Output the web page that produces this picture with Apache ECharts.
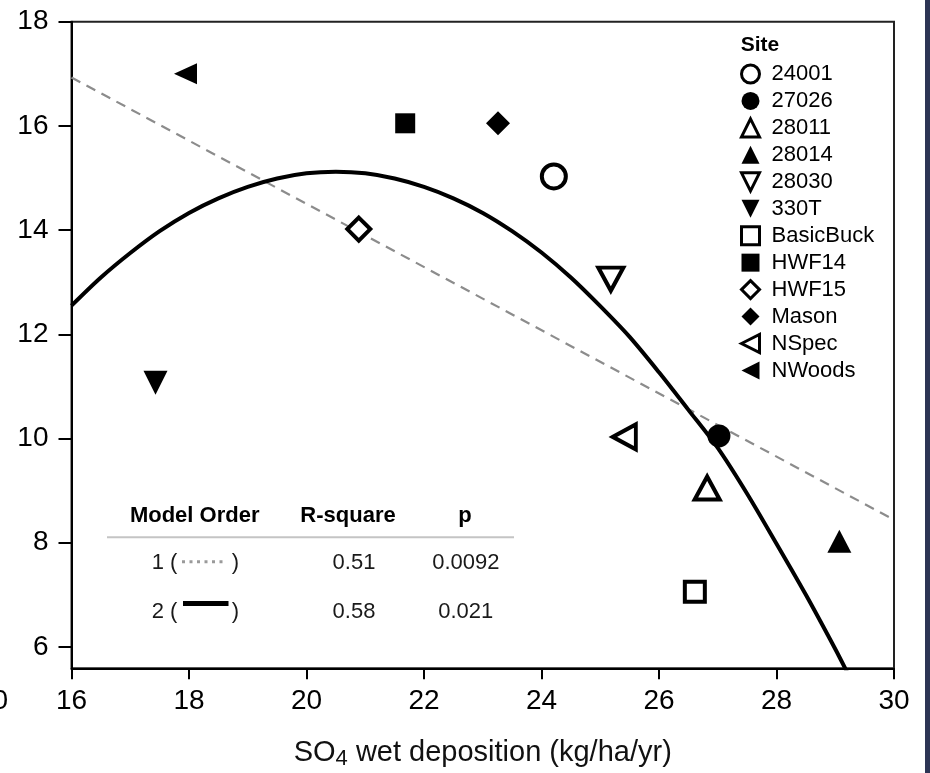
<!DOCTYPE html>
<html>
<head>
<meta charset="utf-8">
<script src="https://cdn.jsdelivr.net/npm/echarts@6.0.0/dist/echarts.min.js"></script>
<style>
html, body { margin: 0; padding: 0; background: #fff; }
#chart { width: 930px; height: 773px; }
</style>
</head>
<body>
<div id="chart"></div>
<script>
// site observations (SO4 deposition vs response)
const sites = ['24001', '27026', '28011', '28014', '28030', '330T', 'BasicBuck', 'HWF14', 'HWF15', 'Mason', 'NSpec', 'NWoods']
const siteX = [24.21, 27.02, 26.82, 29.07, 25.18, 17.43, 26.61, 21.68, 20.89, 23.26, 25.41, 17.94]
const siteY = [15.03, 10.05, 9.05, 8.03, 13.06, 11.07, 7.06, 16.05, 14.02, 16.05, 10.03, 17.0]

// fitted lines
const linFitX = [16, 30]
const linFitY = [16.93, 8.44]
const quadFitX = [16, 16.5, 17, 17.5, 18, 18.5, 19, 19.5, 20, 20.5, 21, 21.5, 22, 22.5, 23, 23.5, 24, 24.5, 25, 25.5, 26, 26.5, 27, 27.5, 28, 28.5, 29, 29.2]
const quadFitY = [12.55, 13.09, 13.56, 13.98, 14.33, 14.61, 14.83, 14.99, 15.09, 15.12, 15.09, 14.99, 14.83, 14.61, 14.33, 13.98, 13.57, 13.09, 12.54, 11.95, 11.27, 10.55, 9.82, 8.94, 7.98, 7.0, 5.96, 5.52]

const xTicks = [16, 18, 20, 22, 24, 26, 28, 30]
const yTicks = [6, 8, 10, 12, 14, 16, 18]

// fit summary table
const modelOrders = ['1', '2']
const rSquares = ['0.51', '0.58']
const pValues = ['0.0092', '0.021']

const FONT = 'Liberation Sans, Arial, sans-serif'

const TRI_DOWN = 'path://M0,0L2,0L1,2Z'
const TRI_LEFT = 'path://M0,1L2,0L2,2Z'

// marker look per site: [symbol, size, open?]
const markers = {
  '24001': ['circle', 24, true],
  '27026': ['circle', 23, false],
  '28011': ['triangle', [25, 23], true],
  '28014': ['triangle', [24, 23], false],
  '28030': [TRI_DOWN, [25, 23], true],
  '330T': [TRI_DOWN, [24, 24], false],
  'BasicBuck': ['rect', 20, true],
  'HWF14': ['rect', 20, false],
  'HWF15': ['diamond', 23, true],
  'Mason': ['diamond', 24, false],
  'NSpec': [TRI_LEFT, [23, 25], true],
  'NWoods': [TRI_LEFT, [23, 21], false]
}

const chart = echarts.init(document.getElementById('chart'))

const siteSeries = sites.map((name, i) => {
  const [symbol, size, open] = markers[name]
  return {
    name,
    type: 'scatter',
    symbol,
    symbolSize: size,
    data: [[siteX[i], siteY[i]]],
    itemStyle: open
      ? { color: '#fff', borderColor: '#000', borderWidth: 4, opacity: 1 }
      : { color: '#000', borderWidth: 0, opacity: 1 },
    z: 5
  }
})

const legendData = sites.map(name => ({
  name,
  itemStyle: markers[name][2] ? { borderWidth: 3 } : {}
}))

const tableRowsY = [563, 612]
const tableGraphics = [
  { type: 'text', x: 194.7, y: 516, style: { text: 'Model Order', font: 'bold 22px ' + FONT, fill: '#000', align: 'center', verticalAlign: 'middle' } },
  { type: 'text', x: 348, y: 516, style: { text: 'R-square', font: 'bold 22px ' + FONT, fill: '#000', align: 'center', verticalAlign: 'middle' } },
  { type: 'text', x: 465, y: 516, style: { text: 'p', font: 'bold 22px ' + FONT, fill: '#000', align: 'center', verticalAlign: 'middle' } },
  { type: 'line', shape: { x1: 107, y1: 537.3, x2: 514, y2: 537.3 }, style: { stroke: '#c4c4c4', lineWidth: 2 } }
]
modelOrders.forEach((m, i) => {
  const y = tableRowsY[i]
  tableGraphics.push(
    { type: 'text', x: 151.7, y, style: { text: m + ' (', font: '22px ' + FONT, fill: '#1a1a1a', align: 'left', verticalAlign: 'middle' } },
    { type: 'text', x: 231.7, y, style: { text: ')', font: '22px ' + FONT, fill: '#1a1a1a', align: 'left', verticalAlign: 'middle' } },
    { type: 'text', x: 354, y, style: { text: rSquares[i], font: '22px ' + FONT, fill: '#1a1a1a', align: 'center', verticalAlign: 'middle' } },
    { type: 'text', x: 465.8, y, style: { text: pValues[i], font: '22px ' + FONT, fill: '#1a1a1a', align: 'center', verticalAlign: 'middle' } }
  )
})
// line keys inside the table
tableGraphics.push(
  { type: 'line', shape: { x1: 182, y1: 561.7, x2: 225, y2: 561.7 }, style: { stroke: '#9a9a9a', lineWidth: 3, lineDash: [3, 4.5] } },
  { type: 'line', shape: { x1: 183, y1: 603.5, x2: 228.5, y2: 603.5 }, style: { stroke: '#000', lineWidth: 5 } }
)

const option = {
  backgroundColor: '#fff',
  animation: false,
  grid: {
    left: 71.5,
    right: 36,
    top: 21.7,
    bottom: 104.7,
    containLabel: false,
    outerBoundsMode: 'none',
    show: true,
    borderColor: '#222',
    borderWidth: 2,
    backgroundColor: 'transparent'
  },
  legend: {
    data: legendData,
    orient: 'vertical',
    left: 740,
    top: 63,
    padding: 0,
    itemWidth: 18,
    itemHeight: 18,
    itemGap: 4.95,
    selectedMode: false,
    textStyle: { fontFamily: FONT, fontSize: 22, lineHeight: 22, color: '#000', padding: [0, 0, 0, 7] }
  },
  xAxis: {
    type: 'value',
    min: 16,
    max: 30,
    interval: 2,
    name: '{a|SO}{s|4}{a| wet deposition (kg/ha/yr)}',
    nameLocation: 'middle',
    nameGap: 68,
    nameTextStyle: {
      color: '#111',
      fontFamily: FONT,
      rich: {
        a: { fontSize: 29, lineHeight: 34, fontFamily: FONT, color: '#111' },
        s: { fontSize: 22, lineHeight: 25, verticalAlign: 'bottom', fontFamily: FONT, color: '#111' }
      }
    },
    axisLine: { lineStyle: { color: '#000', width: 2 } },
    axisTick: { length: 11, lineStyle: { color: '#000', width: 2 } },
    axisLabel: { margin: 19, fontSize: 28, fontFamily: FONT, color: '#000' },
    splitLine: { show: false }
  },
  yAxis: {
    type: 'value',
    min: 5.59,
    max: 18,
    axisLine: { show: true, lineStyle: { color: '#000', width: 2 } },
    axisTick: { show: true, length: 13, customValues: yTicks, lineStyle: { color: '#000', width: 2 } },
    axisLabel: { margin: 23, fontSize: 28, fontFamily: FONT, color: '#000', customValues: yTicks },
    splitLine: { show: false }
  },
  series: [
    {
      name: 'linear',
      type: 'line',
      data: linFitX.map((x, i) => [x, linFitY[i]]),
      showSymbol: false,
      lineStyle: { color: '#8c8c8c', width: 2.2, type: [10, 7] },
      z: 2
    },
    {
      name: 'quadratic',
      type: 'line',
      data: quadFitX.map((x, i) => [x, quadFitY[i]]),
      showSymbol: false,
      smooth: 0.3,
      lineStyle: { color: '#000', width: 4 },
      z: 3
    },
    ...siteSeries
  ],
  graphic: [
    { type: 'text', left: 740.7, top: 35, style: { text: 'Site', font: 'bold 21px ' + FONT, fill: '#000' } },
    ...tableGraphics,
    { type: 'text', x: 8, y: 701.7, style: { text: '0', font: '28px ' + FONT, fill: '#000', align: 'right', verticalAlign: 'middle' } },
    { type: 'rect', shape: { x: 925, y: 0, width: 5, height: 773 }, style: { fill: '#2d3555' } }
  ]
}

chart.setOption(option)
</script>
</body>
</html>
